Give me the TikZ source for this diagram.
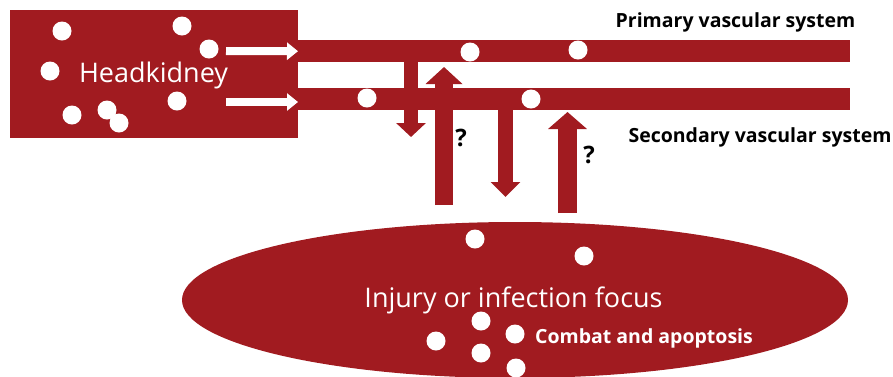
\documentclass[tikz,border=0pt]{standalone}
\usepackage{fontspec}
\setmainfont{Open Sans}
\usetikzlibrary{shapes.geometric,arrows.meta,positioning}
\definecolor{bloodred}{RGB}{161,27,32}
\tikzset{
    organ/.style ={rectangle, fill=bloodred, inner sep=0pt, anchor=north west},
    vessel/.style ={organ, minimum width=552pt, minimum height=22pt},
    cell/.style ={circle, fill=white, inner sep=0pt, minimum size=19pt},
    tag/.style ={font=\bfseries\fontsize{19.5}{19.5}\selectfont, anchor=base, inner sep=0pt},
    title/.style ={font=\fontsize{27}{27}\selectfont, text=white, anchor=base, inner sep=0pt},
    flow/.style n args={3}{draw=bloodred, line width=#1, -{Triangle[width=#2,length=#3]}},
    push/.style ={draw=white, line width=8pt, -{Triangle[width=17pt,length=11pt]}}
}

\begin{document}
\begin{tikzpicture}[x=1pt, y=-1pt]

  \useasboundingbox (0,0) rectangle (893,376);

  \node[organ, minimum width=288pt, minimum height=128pt] (hk) at (10,10) {};
  \node[vessel] (prim) at (298,40) {};
  \node[vessel] (sec)  at (298,88) {};
  \node[ellipse, fill=bloodred, inner sep=0pt, minimum width=666pt, minimum height=156pt] (focus) at (515,300) {};

  \coordinate (w1) at (226,51);
  \coordinate (w2) at (226,102);
  \draw[push] (w1) -- (prim.west);
  \draw[push] (w2) -- (w2 -| sec.west);

  \coordinate (d1) at (411,53);  \coordinate (d1e) at (411,137);
  \coordinate (u1) at (444,205); \coordinate (u1e) at (444,67);
  \coordinate (d2) at (505.5,110); \coordinate (d2e) at (505.5,197);
  \coordinate (u2) at (567.5,213); \coordinate (u2e) at (567.5,112);

  \draw[flow={14pt}{29pt}{14pt}] (d1) -- (d1e);
  \draw[flow={18pt}{36pt}{17pt}] (u1) -- (u1e);
  \draw[flow={15pt}{29pt}{15pt}] (d2) -- (d2e);
  \draw[flow={19pt}{38pt}{17pt}] (u2) -- (u2e);

  \foreach \x/\y [count=\i] in {62/31, 182/26, 209/49, 50/71, 177/101, 72/115, 107/110, 119/123,
                                470/52, 578/50, 367/98, 531/99,
                                475/239, 584/256, 481/321, 515/334, 436/341, 481/353, 516/368}
    \node[cell] (c\i) at (\x,\y) {};

  \node[title] (hkname)    at (153.5,82) {Headkidney};
  \node[title] (focusname) at (513.5,307) {Injury or infection focus};
  \node[tag]  (primname)  at (735.5,27) {Primary vascular system};
  \node[tag]  (secname)   at (760,142) {Secondary vascular system};
  \node[tag, text=white] (fate) at (644,343) {Combat and apoptosis};

  \node[tag, font=\bfseries\fontsize{24}{24}\selectfont] (q1) at (461,146) {?};
  \node[tag, font=\bfseries\fontsize{24}{24}\selectfont] (q2) at (589,163) {?};
\end{tikzpicture}
\end{document}
